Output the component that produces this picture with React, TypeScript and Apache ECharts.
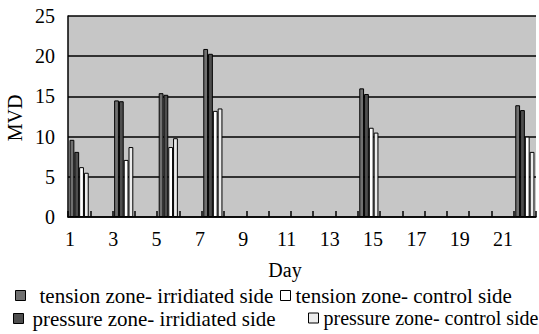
import React, { useEffect, useRef } from "react";
import * as echarts from "echarts";

const dayCategories = Array.from({ length: 21 }, (_, i) => String(i + 1));
const measuredDays = [1, 3, 5, 7, 14, 21];
const tensionIrradiated = [9.6, 14.5, 15.4, 20.9, 16.0, 13.9];
const pressureIrradiated = [8.1, 14.4, 15.2, 20.3, 15.3, 13.3];
const tensionControl = [6.2, 7.1, 8.7, 13.2, 11.1, 10.0];
const pressureControl = [5.5, 8.7, 9.8, 13.5, 10.5, 8.1];
const seriesNames = [
  "tension zone- irridiated side",
  "pressure zone- irridiated side",
  "tension zone- control side",
  "pressure zone- control side",
];
const yTicks = [0, 5, 10, 15, 20, 25];

const FONT = "'Liberation Serif', 'Times New Roman', serif";

function toCategoryData(values: number[]) {
  return dayCategories.map((d) => {
    const idx = measuredDays.indexOf(Number(d));
    return idx >= 0 ? values[idx] : null;
  });
}

export default function App() {
  const ref = useRef<HTMLDivElement>(null);
  useEffect(() => {
    if (!ref.current) return;
    const chart = echarts.init(ref.current, null, { renderer: "svg" });
    const fills = ["#707070", "#4e4e4e", "#ffffff", "#ececec"];
    const allSeries = [tensionIrradiated, pressureIrradiated, tensionControl, pressureControl];
    const legendPos = [
      { idx: 0, left: 15, top: 285, pad: 9, size: 21 },
      { idx: 2, left: 280, top: 285, pad: 0, size: 21 },
      { idx: 1, left: 13, top: 308, pad: 4, size: 21 },
      { idx: 3, left: 308, top: 308, pad: 0, size: 20 },
    ];
    chart.setOption({
      animation: false,
      grid: [
        {
          left: 68,
          right: 3,
          top: 16,
          bottom: 117,
          show: true,
          backgroundColor: "#c6c6c6",
          borderWidth: 0,
          z: 0,
        },
        { left: 70, right: 36, top: 16, bottom: 117, show: false },
      ],
      xAxis: [
        {
          type: "category",
          data: dayCategories,
          gridIndex: 0,
          position: "bottom",
          z: 10,
          boundaryGap: true,
          axisLine: { show: true, lineStyle: { color: "#000", width: 1.5 } },
          axisTick: {
            show: true,
            inside: true,
            interval: 0,
            alignWithLabel: false,
            length: 6,
            lineStyle: { color: "#000", width: 1.5 },
          },
          axisLabel: { show: false, interval: 0 },
          splitLine: { show: false },
        },
        {
          type: "value",
          gridIndex: 1,
          min: 1,
          max: 21,
          interval: 2,
          position: "bottom",
          axisLine: { show: false },
          axisTick: { show: false },
          splitLine: { show: false },
          axisLabel: {
            fontSize: 20,
            fontFamily: FONT,
            color: "#000",
            margin: 12,
            showMinLabel: true,
            showMaxLabel: true,
          },
        },
      ],
      yAxis: [
        {
          type: "value",
          gridIndex: 0,
          min: yTicks[0],
          max: yTicks[yTicks.length - 1],
          interval: 5,
          axisLine: { show: true, lineStyle: { color: "#000", width: 1.5 } },
          axisTick: { show: false },
          splitLine: { show: true, lineStyle: { color: "#000", width: 1.5 } },
          axisLabel: { fontSize: 20, fontFamily: FONT, color: "#000", margin: 13 },
        },
        {
          type: "value",
          gridIndex: 1,
          show: false,
          min: 0,
          max: 25,
        },
      ],
      legend: legendPos.map((l) => ({
        data: [seriesNames[l.idx]],
        left: l.left,
        top: l.top,
        padding: 0,
        itemWidth: 10,
        itemHeight: 10,
        icon: "path://M0 0H10V10H0Z",
        itemStyle: { color: fills[l.idx], borderColor: "#000", borderWidth: 1 },
        textStyle: {
          fontSize: l.size,
          fontFamily: FONT,
          color: "#000",
          padding: [0, 0, 0, l.pad],
        },
      })),
      graphic: [
        {
          type: "text",
          x: 15,
          y: 118,
          rotation: Math.PI / 2,
          style: {
            text: "MVD",
            fontSize: 20,
            fontFamily: FONT,
            fill: "#000",
            align: "center",
            verticalAlign: "middle",
          },
        },
        {
          type: "text",
          x: 285,
          y: 270,
          style: {
            text: "Day",
            fontSize: 20,
            fontFamily: FONT,
            fill: "#000",
            align: "center",
            verticalAlign: "middle",
          },
        },
      ],
      series: allSeries.map((vals, i) => ({
        name: seriesNames[i],
        type: "bar",
        xAxisIndex: 0,
        yAxisIndex: 0,
        barGap: "0%",
        barCategoryGap: "14%",
        data: toCategoryData(vals),
        itemStyle: { color: fills[i], borderColor: "#000", borderWidth: 1 },
      })),
    });
    return () => chart.dispose();
  }, []);
  return <div ref={ref} style={{ width: 539, height: 334, position: "absolute", left: 0, top: 0 }} />;
}
